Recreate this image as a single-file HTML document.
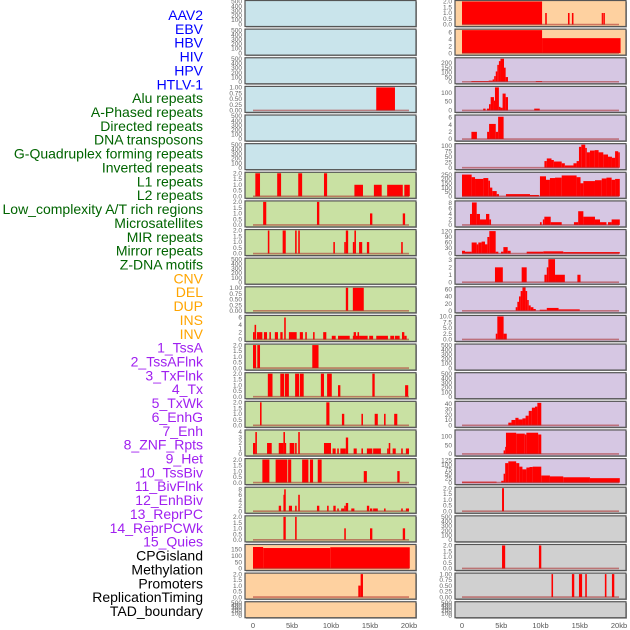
<!DOCTYPE html>
<html><head><meta charset="utf-8"><style>
html,body{margin:0;padding:0;background:#fff;}
svg{display:block;font-family:"Liberation Sans",sans-serif;}
</style></head><body>
<svg id="chart" width="630" height="630" viewBox="0 0 630 630" xmlns="http://www.w3.org/2000/svg">
<g id="labels"></g>
<g id="panels"></g>
<g id="xaxis"></g>
</svg>
<script>
const featureNames = ["AAV2","EBV","HBV","HIV","HPV","HTLV-1","Alu repeats","A-Phased repeats","Directed repeats","DNA transposons","G-Quadruplex forming repeats","Inverted repeats","L1 repeats","L2 repeats","Low_complexity A/T rich regions","Microsatellites","MIR repeats","Mirror repeats","Z-DNA motifs","CNV","DEL","DUP","INS","INV","1_TssA","2_TssAFlnk","3_TxFlnk","4_Tx","5_TxWk","6_EnhG","7_Enh","8_ZNF_Rpts","9_Het","10_TssBiv","11_BivFlnk","12_EnhBiv","13_ReprPC","14_ReprPCWk","15_Quies","CPGisland","Methylation","Promoters","ReplicationTiming","TAD_boundary"];
const featureGroups = ["v","v","v","v","v","v","r","r","r","r","r","r","r","r","r","r","r","r","r","s","s","s","s","s","c","c","c","c","c","c","c","c","c","c","c","c","c","c","c","k","k","k","k","k"];
const xTickLabels = ["0","5kb","10kb","15kb","20kb"];
const xTickValues = [0,5,10,15,20];

const T500 = ["0","100","200","300","400","500"];
const T2 = ["0.0","0.5","1.0","1.5","2.0"];
const T1 = ["0.00","0.25","0.50","0.75","1.00"];

// Left column panels: [bg, yMax, ticks, segments [startKb,endKb,value]]
const leftBg = ["b","b","b","b","b","b","g","g","g","g","g","g","g","g","g","g","g","g","g","o","o","o"];
const leftMax = [500,500,500,1,500,500,2,2,2,500,1,6.3,2,2,2,4.2,2,8.4,2,180,2,500];
const leftTicks = [T500,T500,T500,T1,T500,T500,T2,T2,T2,T500,T1,["0","2","4","6"],T2,T2,T2,["0","1","2","3","4"],T2,["0","2","4","6","8"],T2,["0","50","100","150"],T2,T500];
const leftSeg0 = [], leftSeg1 = [], leftSeg2 = [];
const leftSeg3 = [[15.8,18.2,1]];
const leftSeg4 = [], leftSeg5 = [];
const leftSeg6 = [[0.3,0.9,2],[3.1,3.6,2],[5.8,6.3,2],[9.1,9.5,2],[13,14.1,1],[15.5,16.5,1],[17.2,19.2,1],[19.4,20.1,1]];
const leftSeg7 = [[1.3,1.7,2],[8.2,8.5,2],[15,15.3,1],[19.2,19.5,1]];
const leftSeg8 = [[1.9,2.1,2],[3.8,4.2,2],[5.4,5.6,2],[5.8,6.0,2],[10.3,10.5,1],[11.7,11.9,1],[11.9,12.2,2],[12.8,13.0,1],[13.0,13.2,2],[13.6,14,1],[14.6,14.9,1],[19,19.2,1]];
const leftSeg9 = [];
const leftSeg10 = [[11.9,12.2,1],[12.8,14.2,1]];
const leftSeg11 = [[0,0.2,2],[0.2,0.4,4],[0.5,1.2,2],[1.4,1.8,2],[2.1,2.3,2],[2.8,3.2,2],[3.5,3.8,2],[4.0,4.2,6],[4.6,5.6,2],[6,6.4,2],[6.7,6.9,2],[7.7,7.9,2],[9,9.4,2],[10.1,10.6,1],[10.9,12.4,1],[12.8,12.9,1],[12.9,13.2,2],[13.2,13.4,1],[13.4,13.6,2],[13.6,14.7,1],[14.9,15.4,1],[15.8,17.3,1],[17.6,18.1,1],[18.2,18.8,1],[19.1,19.4,2],[19.4,19.7,1]];
const leftSeg12 = [[0,0.4,2],[0.55,0.9,2],[7.6,8.4,2]];
const leftSeg13 = [[1.9,2.5,2],[3.5,4.0,2],[4.1,4.6,2],[5.4,5.9,2],[6,6.5,2],[8.7,9.1,2],[9.5,10.1,2],[10.9,11.2,1],[15.3,15.6,2],[19.5,19.9,1]];
const leftSeg14 = [[0.9,1.1,2],[9.4,9.8,2],[11.4,11.7,1],[13.9,14.1,1],[15.6,16,1],[16.8,17,1],[18.1,18.5,1]];
const leftSeg15 = [[0,0.3,2],[0.3,0.5,4],[1.8,2.4,2],[3.3,3.9,2],[3.9,4.1,4],[4.1,4.2,2],[4.7,5.3,2],[5.4,5.6,2],[5.8,6.0,4],[9.1,10,2],[10.2,10.6,1],[10.8,11,1],[11.2,11.9,1],[11.9,12.2,3],[12.9,13.3,1],[13.9,14.1,1],[14.6,15.3,1],[15.4,16.4,1],[17.2,17.4,1],[17.4,17.6,2],[17.9,18.3,1],[19,19.2,1],[19.6,20,1]];
const leftSeg16 = [[1.2,2.1,2],[2.9,4.4,2],[4.5,4.9,2],[6.3,7.1,2],[7.3,7.7,2],[8.3,8.8,2],[14.2,14.6,1],[18.5,18.8,1]];
const leftSeg17 = [[3.3,3.6,2],[3.9,4.0,6],[4.0,4.2,8],[4.6,5.0,2],[5.4,5.6,2],[5.8,6.0,6],[8.2,8.5,2],[9.5,9.7,2],[10.3,10.6,2],[10.8,11,1],[11.3,11.7,1],[11.7,11.9,2],[11.9,12.2,3],[12.6,13,1],[14.6,14.9,2],[15,15.3,1],[15.4,16,1],[16.8,17,1],[19,19.2,1],[19.6,20,1]];
const leftSeg18 = [[3.9,4.2,2],[5.4,5.6,2],[11.7,11.9,1],[15,15.3,1],[19.2,19.5,1]];
const leftSeg19 = [[0,1.3,168],[1.3,9.9,160],[9.9,20.1,166]];
const leftSeg20 = [[13.5,13.8,1],[13.8,14.1,2]];
const leftSeg21 = [];

const rightBg = ["o","o","p","p","p","p","p","p","p","p","p","p","p","p","p","p","p","y","y","y","y","y"];
const rightMax = [2,6.6,245,130,6.4,105,265,8.4,125,3.1,64,10,500,500,43,130,130,2,500,2,1,500];
const rightTicks = [T2,["0","2","4","6"],["0","50","100","150","200"],["0","50","100"],["0","2","4","6"],["0","25","50","75","100"],["0","50","100","150","200","250"],["0","2","4","6","8"],["0","30","60","90","120"],["0","1","2","3"],["0","20","40","60"],["0.0","2.5","5.0","7.5","10.0"],T500,T500,["0","10","20","30","40"],["0","50","100"],["0","25","50","75","100","125"],T2,T500,T2,T1,T500];
const rightSeg0 = [[0,10.2,2],[10.6,10.8,1],[13.5,13.7,1],[14.0,14.2,1],[17.8,17.9,1],[18.0,18.2,1]];
const rightSeg1 = [[0,10.2,6.6],[10.2,20.2,4.3]];
const rightSeg2 = [[1.2,3.4,8],[3.4,3.9,12],[3.9,4.1,25],[4.1,4.3,60],[4.3,4.5,110],[4.5,4.7,180],[4.7,4.9,220],[4.9,5.35,245],[5.35,5.56,150],[5.56,5.86,50],[9.4,10.2,8]];
const rightSeg3 = [[2.7,3.0,10],[3.18,3.44,10],[3.44,3.65,35],[3.65,4.07,75],[4.07,4.2,55],[4.2,4.7,130],[4.7,4.9,20],[4.9,5.17,15],[5.17,5.56,95],[5.56,5.86,75],[9.2,9.9,10]];
const rightSeg4 = [[1.2,1.9,2],[3.2,3.45,2],[3.45,4.3,4.2],[4.3,4.6,2],[4.6,5.3,6.2]];
const rightSeg5 = [[10.5,10.8,30],[10.8,11.4,42],[11.4,11.7,35],[11.7,12.7,28],[12.7,13.1,20],[13.1,14.2,10],[14.2,14.6,20],[14.6,14.9,30],[14.9,15.2,95],[15.2,15.7,105],[15.7,15.9,90],[15.9,16.3,70],[16.3,16.9,78],[16.9,17.4,80],[17.4,18.0,70],[18.0,18.6,60],[18.6,19.1,50],[19.1,19.5,45],[19.5,19.9,75],[19.9,20.1,70]];
const rightSeg6 = [[0,1.23,250],[1.23,1.66,220],[1.66,2.72,200],[2.72,3.35,210],[3.35,3.57,180],[3.57,3.86,100],[3.86,4.42,60],[4.42,4.71,25],[5.6,8.66,25],[8.66,9.8,15],[9.93,10.7,230],[10.7,11.2,190],[11.2,11.85,210],[11.85,12.7,215],[12.7,14.6,240],[14.6,15.1,220],[15.1,15.46,150],[15.46,16.94,175],[16.94,17.8,185],[17.8,18.4,205],[18.4,19.06,215],[19.06,19.5,190],[19.5,20.1,200]];
const rightSeg7 = [[1.02,1.27,4],[1.27,1.87,8.2],[1.87,2.29,4],[2.29,3.06,2],[3.06,3.48,4],[3.48,3.7,2],[9.93,10.15,1],[10.3,10.49,2],[10.49,11.3,3],[11.3,12.7,1],[14.26,14.8,1],[14.8,15.46,5],[15.46,16.94,3],[16.94,17.58,2],[17.58,18.4,1],[18.6,19.06,1],[19.06,20.1,2]];
const rightSeg8 = [[0,0.38,15],[0.38,1.23,10],[1.23,1.87,60],[1.87,2.08,50],[2.08,2.5,60],[2.5,2.93,65],[2.93,3.23,50],[3.23,3.48,90],[3.48,4.29,122],[4.29,4.63,10],[4.97,5.27,10],[5.27,5.82,35],[5.82,6.2,15],[8.24,10.36,10],[10.36,12.9,12],[12.9,20.1,8]];
const rightSeg9 = [[4.2,5.2,2],[7.6,8.24,2],[10.5,10.8,1],[10.8,11.0,2],[11.0,11.85,3.1],[11.85,13.1,1],[14.7,15.1,1]];
const rightSeg10 = [[6.84,7.05,10],[7.05,7.26,25],[7.26,7.47,40],[7.47,7.7,55],[7.7,8.1,65],[8.1,8.3,55],[8.3,8.5,30],[8.5,8.75,15],[8.75,9.1,10],[9.1,9.4,5],[9.9,10.8,3],[10.8,12.3,8],[12.3,15.0,4]];
const rightSeg11 = [[4.3,4.5,2.5],[4.5,5.3,10],[5.3,5.7,2.5]];
const rightSeg12 = [], rightSeg13 = [];
const rightSeg14 = [[5.9,6.3,5],[6.3,6.8,10],[6.8,7.2,14],[7.2,7.7,11],[7.7,8.1,13],[8.1,8.5,18],[8.5,8.9,27],[8.9,9.3,33],[9.3,9.6,35],[9.6,10.1,42]];
const rightSeg15 = [[5.3,5.5,20],[5.5,5.6,40],[5.6,6.9,120],[6.9,8.0,115],[8.0,8.2,110],[8.2,9.7,120],[9.7,10.1,110]];
const rightSeg16 = [[0,4.4,5],[5.0,5.3,10],[5.3,5.5,50],[5.5,5.9,110],[5.9,6.9,120],[6.9,7.3,110],[7.3,7.7,90],[7.7,8.2,75],[8.2,8.6,85],[8.6,9.0,88],[9.0,10.1,90],[10.1,11.2,40],[11.2,12.9,35],[12.9,16.3,30],[16.3,20.1,25]];
const rightSeg17 = [[5.1,5.35,2]];
const rightSeg18 = [];
const rightSeg19 = [[5.1,5.5,2],[9.8,10.1,2]];
const rightSeg20 = [[11.4,11.6,1],[14.0,14.3,1],[14.9,15.3,1],[15.7,15.9,1],[18.2,18.4,1],[19.1,19.4,1]];
const rightSeg21 = [];

const leftSegs = [leftSeg0,leftSeg1,leftSeg2,leftSeg3,leftSeg4,leftSeg5,leftSeg6,leftSeg7,leftSeg8,leftSeg9,leftSeg10,leftSeg11,leftSeg12,leftSeg13,leftSeg14,leftSeg15,leftSeg16,leftSeg17,leftSeg18,leftSeg19,leftSeg20,leftSeg21];
const rightSegs = [rightSeg0,rightSeg1,rightSeg2,rightSeg3,rightSeg4,rightSeg5,rightSeg6,rightSeg7,rightSeg8,rightSeg9,rightSeg10,rightSeg11,rightSeg12,rightSeg13,rightSeg14,rightSeg15,rightSeg16,rightSeg17,rightSeg18,rightSeg19,rightSeg20,rightSeg21];

const NS = "http://www.w3.org/2000/svg";
function mk(tag, attrs, parent){const e=document.createElementNS(NS,tag);for(const k in attrs)e.setAttribute(k,attrs[k]);parent.appendChild(e);return e;}
const bgColors = {b:"#c9e4eb",g:"#c9e1a3",o:"#fed1a0",p:"#d6c7e3",y:"#d0d0d0"};
const groupColors = {v:"#0000ff",r:"#006400",s:"#ffa500",c:"#a020f0",k:"#000000"};

const labelsG = document.getElementById("labels");
featureNames.forEach((n,i)=>{
  const t = mk("text",{x:203,y:15+i*13.86+5,"text-anchor":"end","font-size":"14",fill:groupColors[featureGroups[i]]},labelsG);
  
  
  t.textContent = n;
});

function rowTop(i){return 0.5+i*28.63;}
function rowH(i){return i===21?16:26;}
function xLeft(kb){return 253+kb*7.8;}
function xRight(kb){return 462+kb*7.85;}

const panelsG = document.getElementById("panels");
function drawPanel(side, i, bg, yMax, ticks, segs){
  const px = side==="left"?245:455, pw=171;
  const top=rowTop(i), h=rowH(i);
  const xf = side==="left"?xLeft:xRight;
  const y0 = top+h-2, yr = h-3;
  const yf = v => y0 - v/yMax*yr;
  const g = mk("g",{},panelsG);
  
  
  mk("rect",{x:px+1,y:top+1,width:pw,height:h,fill:"#999"},g);
  const r = mk("rect",{x:px,y:top,width:pw,height:h,fill:bgColors[bg],stroke:"#555","stroke-width":1.2},g);
  
  
  ticks.forEach(t=>{
    const tt = mk("text",{x:px-3,y:yf(parseFloat(t))+2.2,"text-anchor":"end","font-size":"6.5",fill:"#666"},g);
    
    
    tt.textContent = t;
  });
  if(segs.length){
    segs.forEach(s=>{
      const x1=xf(s[0]), x2=xf(s[1]);
      const b = mk("rect",{x:x1,y:yf(s[2]),width:Math.max(1.2,x2-x1),height:y0-yf(s[2]),fill:"#ff0000"},g);
      
      
    });
    const bl = mk("line",{x1:xf(0),x2:xf(20),y1:y0,y2:y0,stroke:"rgba(170,40,40,0.55)","stroke-width":1.6},g);
    
    
  }
}
for(let i=0;i<22;i++){
  drawPanel("left",i,leftBg[i],leftMax[i],leftTicks[i],leftSegs[i]);
  drawPanel("right",i,rightBg[i],rightMax[i],rightTicks[i],rightSegs[i]);
}
const xg = document.getElementById("xaxis");
xTickValues.forEach((v,j)=>{
  [xLeft,xRight].forEach(f=>{
    const t = mk("text",{x:f(v),y:628,"text-anchor":"middle","font-size":"7.5",fill:"#555"},xg);
    
    
    t.textContent = xTickLabels[j];
  });
});
</script>
</body></html>
